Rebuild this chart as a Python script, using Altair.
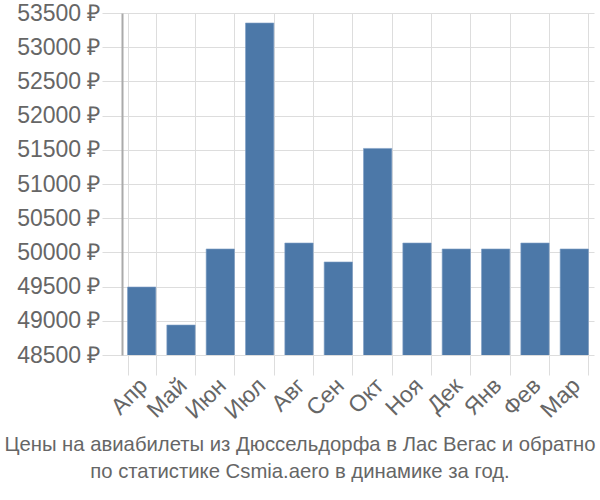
import altair as alt
import pandas as pd

months = ["Апр", "Май", "Июн", "Июл", "Авг", "Сен", "Окт", "Ноя", "Дек", "Янв", "Фев", "Мар"]
prices = [49494, 48938, 50050, 53354, 50137, 49860, 51520, 50137, 50050, 50050, 50137, 50050]
y_ticks = [48500, 49000, 49500, 50000, 50500, 51000, 51500, 52000, 52500, 53000, 53500]
title_lines = ["Цены на авиабилеты из Дюссельдорфа в Лас Вегас и обратно",
               "по статистике Csmia.aero в динамике за год."]

df = pd.DataFrame({"month": months, "price": prices})

chart = alt.Chart(df).mark_bar(
    color="#4c78a8", stroke="#7f9fc4", strokeWidth=1, strokeOpacity=0.6, clip=True
).encode(
    x=alt.X("month:N", sort=months, title=None,
            scale=alt.Scale(paddingInner=0.28, paddingOuter=0.14),
            axis=alt.Axis(labelAngle=-45, labelAlign="right", labelBaseline="top",
                          labelFontSize=23, labelColor="#666666", labelFont="Liberation Sans",
                          tickSize=20, tickColor="#dddddd", tickBand="extent",
                          grid=True, gridColor="#dddddd", bandPosition=0,
                          domain=False, labelPadding=-1, labelOffset=-6)),
    y=alt.Y("price:Q", title=None,
            scale=alt.Scale(domain=[48500, 53500], zero=False, nice=False),
            axis=alt.Axis(values=y_ticks, labelExpr="datum.value + ' ₽'",
                          labelFontSize=23, labelColor="#666666", labelFont="Liberation Sans",
                          tickSize=20, tickColor="#dddddd", gridColor="#dddddd",
                          domainColor="#aaaaaa", domainWidth=2, labelPadding=2)),
).properties(
    width=472, height=342,
    title=alt.TitleParams(text=title_lines, orient="bottom", anchor="middle", frame="group",
                          font="Liberation Sans", fontSize=20.3, fontWeight="normal",
                          color="#666666", offset=12, lineHeight=27, dx=-58),
    padding={"left": 122, "top": 13, "right": 6, "bottom": 145},
    autosize=alt.AutoSizeParams(type="none"),
).configure_view(stroke=None)

chart.save("out.html", embed_options={"renderer": "svg", "actions": False})
